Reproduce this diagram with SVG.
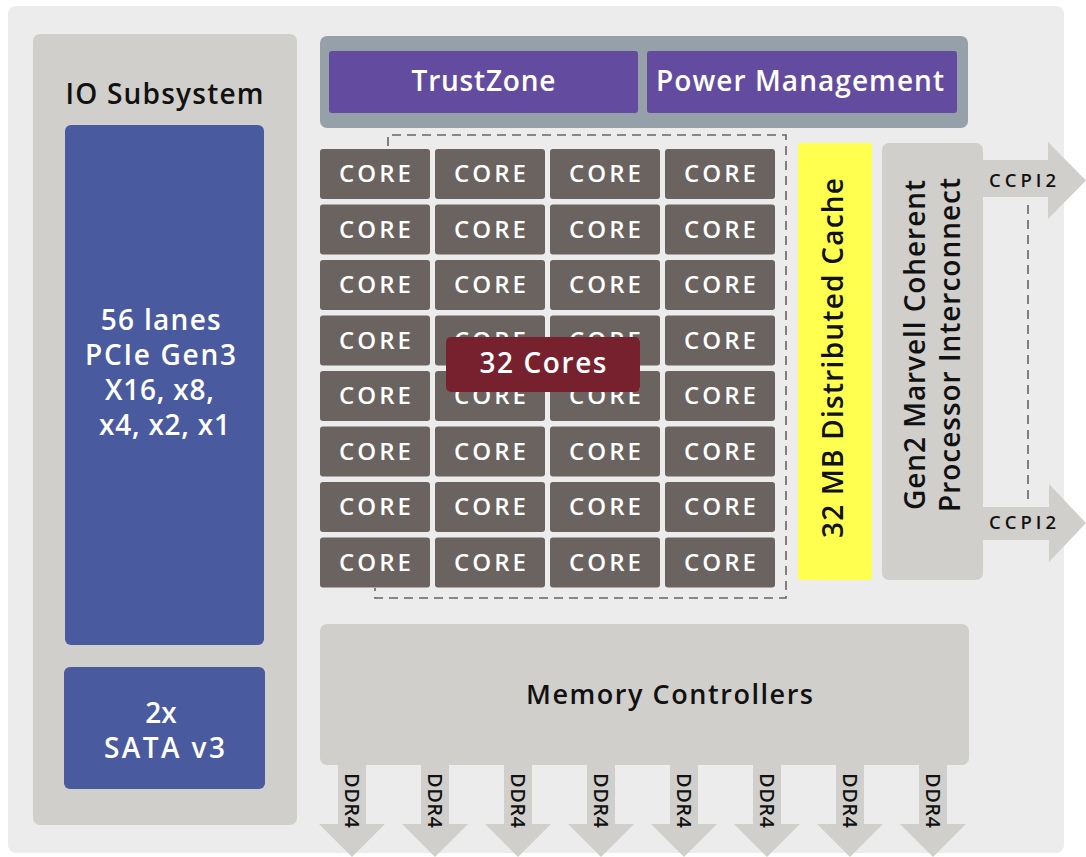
<svg xmlns="http://www.w3.org/2000/svg" width="1086" height="857" viewBox="0 0 1086 857">
<style>
.t{font-family:"Open Sans","Liberation Sans",sans-serif;font-weight:600}
.w{fill:#ffffff}
.k{fill:#111111}
.core rect{fill:#6b6360}
.core text{font-family:"Open Sans","Liberation Sans",sans-serif;font-weight:600;font-size:24px;fill:#ffffff;text-anchor:middle}
.dash{fill:none;stroke:#6b6360;stroke-width:1.6;stroke-dasharray:9 6}
.arr{fill:#d0cfcb}
.ddr{font-family:"Open Sans","Liberation Sans",sans-serif;font-weight:600;font-size:20px;fill:#111111}
</style>
<defs>
<g id="coreTpl" class="core"><rect x="0" y="0" width="110" height="50" rx="3"/><text x="55" y="33" textLength="72" lengthAdjust="spacing">CORE</text></g>
</defs>
<rect x="0" y="0" width="1086" height="857" fill="#ffffff"/>
<rect id="chip" x="8" y="6" width="1056" height="847" rx="8" fill="#ececec"/>

<g id="io">
<rect x="33" y="34" width="264" height="791" rx="7" fill="#d0cfcb"/>
<text class="t k" x="164.5" y="104" font-size="28" text-anchor="middle" textLength="198" lengthAdjust="spacing">IO Subsystem</text>
</g>
<g id="pcie">
<rect x="65" y="125" width="199" height="520" rx="6" fill="#4a5a9f"/>
<text class="t w" font-size="28" text-anchor="middle">
<tspan x="165" y="330" textLength="120" lengthAdjust="spacing">56 lanes</tspan>
<tspan x="165" y="365" textLength="151" lengthAdjust="spacing">PCIe Gen3</tspan>
<tspan x="163.5" y="400" textLength="109" lengthAdjust="spacing">X16, x8,</tspan>
<tspan x="164.5" y="435" textLength="131" lengthAdjust="spacing">x4, x2, x1</tspan>
</text>
</g>
<g id="sata">
<rect x="64" y="667" width="201" height="122" rx="6" fill="#4a5a9f"/>
<text class="t w" font-size="28" text-anchor="middle">
<tspan x="164.5" y="723">2x</tspan>
<tspan x="164.5" y="758" textLength="121" lengthAdjust="spacing">SATA v3</tspan>
</text>
</g>

<g id="security">
<rect x="320" y="36" width="648" height="92" rx="7" fill="#96a0a8"/>
</g>
<g id="trustzone">
<rect x="329" y="51" width="309" height="62" rx="3" fill="#634c9f"/>
<text class="t w" x="483.5" y="91" font-size="28" text-anchor="middle" textLength="144" lengthAdjust="spacing">TrustZone</text>
</g>
<g id="power">
<rect x="647" y="51" width="310" height="62" rx="3" fill="#634c9f"/>
<text class="t w" x="800" y="91" font-size="28" text-anchor="middle" textLength="288" lengthAdjust="spacing">Power Management</text>
</g>

<g id="connectors">
<path class="dash" d="M388,146 V135 H786 V598 H375 V588"/>
<path class="dash" d="M1028,205 V505" stroke-dasharray="10 8"/>
</g>

<g id="cores">
<use href="#coreTpl" x="320" y="149"/><use href="#coreTpl" x="435" y="149"/><use href="#coreTpl" x="550" y="149"/><use href="#coreTpl" x="665" y="149"/>
<use href="#coreTpl" x="320" y="204.5"/><use href="#coreTpl" x="435" y="204.5"/><use href="#coreTpl" x="550" y="204.5"/><use href="#coreTpl" x="665" y="204.5"/>
<use href="#coreTpl" x="320" y="260"/><use href="#coreTpl" x="435" y="260"/><use href="#coreTpl" x="550" y="260"/><use href="#coreTpl" x="665" y="260"/>
<use href="#coreTpl" x="320" y="315.5"/><use href="#coreTpl" x="435" y="315.5"/><use href="#coreTpl" x="550" y="315.5"/><use href="#coreTpl" x="665" y="315.5"/>
<use href="#coreTpl" x="320" y="371"/><use href="#coreTpl" x="435" y="371"/><use href="#coreTpl" x="550" y="371"/><use href="#coreTpl" x="665" y="371"/>
<use href="#coreTpl" x="320" y="426.5"/><use href="#coreTpl" x="435" y="426.5"/><use href="#coreTpl" x="550" y="426.5"/><use href="#coreTpl" x="665" y="426.5"/>
<use href="#coreTpl" x="320" y="482"/><use href="#coreTpl" x="435" y="482"/><use href="#coreTpl" x="550" y="482"/><use href="#coreTpl" x="665" y="482"/>
<use href="#coreTpl" x="320" y="537.5"/><use href="#coreTpl" x="435" y="537.5"/><use href="#coreTpl" x="550" y="537.5"/><use href="#coreTpl" x="665" y="537.5"/>
</g>
<g id="cores-label">
<rect x="446" y="337" width="194" height="55" rx="5" fill="#77212e"/>
<text class="t w" x="543" y="373" font-size="28" text-anchor="middle" textLength="127" lengthAdjust="spacing">32 Cores</text>
</g>

<g id="cache">
<rect x="798" y="143" width="74" height="437" rx="3" fill="#ffff50"/>
<text class="t k" transform="translate(843,358) rotate(-90)" x="0" y="0" font-size="28" text-anchor="middle" textLength="360" lengthAdjust="spacing">32 MB Distributed Cache</text>
</g>

<g id="ccpi-top">
<path class="arr" d="M980,160 H1048 V142 L1086,180.5 L1048,219 V197 H980 Z"/>
<text class="t k" x="989" y="187" font-size="18.5" textLength="67" lengthAdjust="spacing">CCPI2</text>
</g>
<g id="ccpi-bottom">
<path class="arr" d="M980,507 H1049 V484 L1086,523 L1049,562 V540 H980 Z"/>
<text class="t k" x="989" y="529" font-size="18.5" textLength="67" lengthAdjust="spacing">CCPI2</text>
</g>
<g id="interconnect">
<rect x="882" y="143" width="101" height="437" rx="7" fill="#d0cfcb"/>
<text class="t k" transform="translate(925,345) rotate(-90)" x="0" y="0" font-size="28" text-anchor="middle" textLength="330" lengthAdjust="spacing">Gen2 Marvell Coherent</text>
<text class="t k" transform="translate(960,345) rotate(-90)" x="0" y="0" font-size="28" text-anchor="middle" textLength="334" lengthAdjust="spacing">Processor Interconnect</text>
</g>

<g id="memory">
<path class="arr" d="M338,762 V824 H319 L352,857 L385,824 H366 V762 Z"/>
<path class="arr" d="M421,762 V824 H402 L435,857 L468,824 H449 V762 Z"/>
<path class="arr" d="M504,762 V824 H485 L518,857 L551,824 H532 V762 Z"/>
<path class="arr" d="M587,762 V824 H568 L601,857 L634,824 H615 V762 Z"/>
<path class="arr" d="M670,762 V824 H651 L684,857 L717,824 H698 V762 Z"/>
<path class="arr" d="M753,762 V824 H734 L767,857 L800,824 H781 V762 Z"/>
<path class="arr" d="M836,762 V824 H817 L850,857 L883,824 H864 V762 Z"/>
<path class="arr" d="M919,762 V824 H900 L933,857 L966,824 H947 V762 Z"/>
<rect x="320" y="624" width="649" height="141" rx="7" fill="#d0cfcb"/>
<text class="t k" x="669.5" y="704" font-size="27" text-anchor="middle" textLength="287" lengthAdjust="spacing">Memory Controllers</text>
<text class="ddr" transform="translate(345,773) rotate(90)" textLength="55" lengthAdjust="spacing">DDR4</text>
<text class="ddr" transform="translate(428,773) rotate(90)" textLength="55" lengthAdjust="spacing">DDR4</text>
<text class="ddr" transform="translate(511,773) rotate(90)" textLength="55" lengthAdjust="spacing">DDR4</text>
<text class="ddr" transform="translate(594,773) rotate(90)" textLength="55" lengthAdjust="spacing">DDR4</text>
<text class="ddr" transform="translate(677,773) rotate(90)" textLength="55" lengthAdjust="spacing">DDR4</text>
<text class="ddr" transform="translate(760,773) rotate(90)" textLength="55" lengthAdjust="spacing">DDR4</text>
<text class="ddr" transform="translate(843,773) rotate(90)" textLength="55" lengthAdjust="spacing">DDR4</text>
<text class="ddr" transform="translate(926,773) rotate(90)" textLength="55" lengthAdjust="spacing">DDR4</text>
</g>
</svg>
